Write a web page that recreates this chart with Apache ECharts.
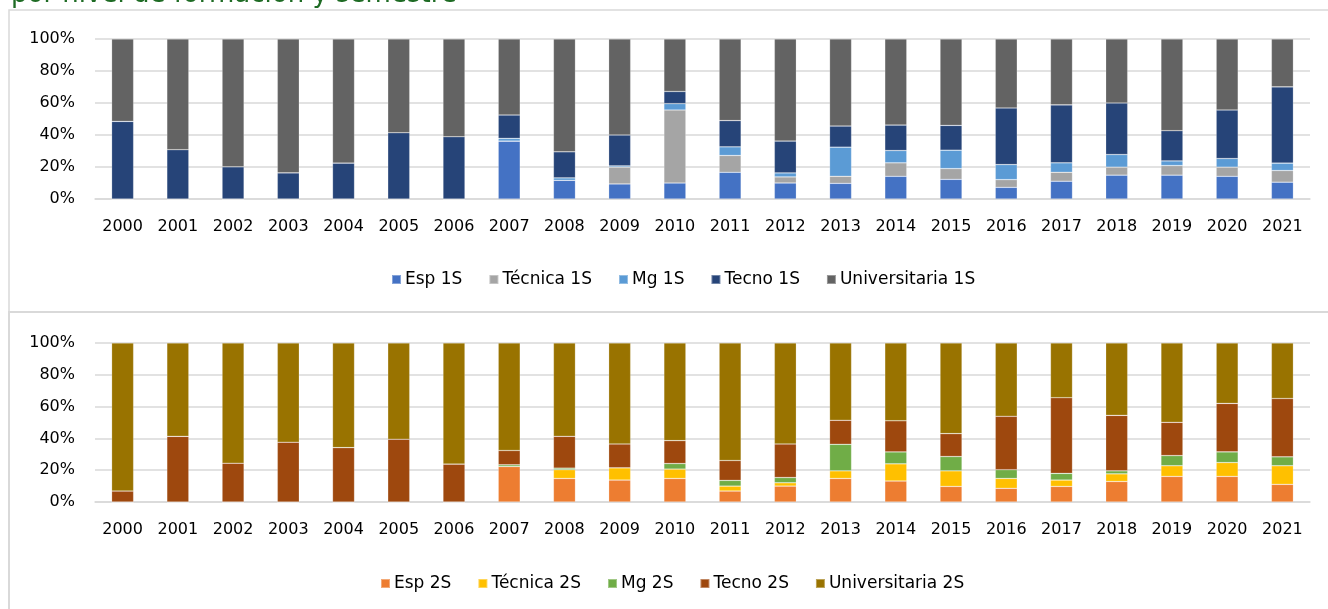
<!DOCTYPE html>
<html>
<head>
<meta charset="utf-8">
<script src="https://cdn.jsdelivr.net/npm/echarts@6/dist/echarts.min.js"></script>
<style>
html,body{margin:0;padding:0;background:#fff;}
#c{width:1328px;height:609px;}
</style>
</head>
<body>
<div id="c"></div>
<script>
const years = ['2000','2001','2002','2003','2004','2005','2006','2007','2008','2009','2010','2011','2012','2013','2014','2015','2016','2017','2018','2019','2020','2021'];
const yTicks = [0, 20, 40, 60, 80, 100];

const names1 = ['Esp 1S','Técnica 1S','Mg 1S','Tecno 1S','Universitaria 1S'];
const esp1   = [0,0,0,0,0,0,0,36.2,11.7,9.4,10.0,16.7,10.0,9.8,14.2,12.3,7.3,11.1,14.9,14.9,14.2,10.5];
const tec1   = [0,0,0,0,0,0,0,0,0,10.5,45.6,10.5,3.8,4.4,8.4,6.7,4.8,5.6,5.0,6.0,5.7,7.3];
const mg1    = [0,0,0,0,0,0,0,1.7,1.5,0.8,4.0,5.4,2.5,18.2,7.7,11.5,9.4,5.9,7.9,2.9,5.4,4.6];
const tecno1 = [48.5,30.8,20.1,16.3,22.4,41.4,38.9,14.6,16.3,19.3,7.6,16.4,19.9,13.2,15.9,15.5,35.4,36.2,32.2,18.9,30.3,47.7];
const univ1  = [51.5,69.2,79.9,83.7,77.6,58.6,61.1,47.5,70.5,60.0,32.8,51.0,63.8,54.4,53.8,54.0,43.1,41.2,40.0,57.3,44.4,29.9];

const names2 = ['Esp 2S','Técnica 2S','Mg 2S','Tecno 2S','Universitaria 2S'];
const esp2   = [0,0,0,0,0,0,0,22.3,14.8,13.8,14.8,6.9,10.0,14.8,13.2,9.8,8.6,9.8,12.9,16.1,16.1,11.1];
const tec2   = [0,0,0,0,0,0,0,0,5.5,7.7,5.9,3.1,2.1,4.8,10.8,9.8,6.2,4.0,4.8,6.7,8.7,11.7];
const mg2    = [0,0,0,0,0,0,0,1.1,1.0,0,3.5,3.6,3.3,16.7,7.5,9.0,5.5,4.2,1.9,6.4,6.7,5.6];
const tecno2 = [6.9,41.3,24.4,37.6,34.2,39.5,23.8,9.0,20.0,15.0,14.4,12.5,21.1,15.1,19.6,14.4,33.6,47.6,34.9,20.9,30.5,36.7];
const univ2  = [93.1,58.7,75.6,62.4,65.8,60.5,76.2,67.6,58.7,63.5,61.4,73.9,63.5,48.6,48.9,57.0,46.1,34.4,45.5,49.9,38.0,34.9];

const colors1 = ['#4472C4','#A5A5A5','#5B9BD5','#264478','#636363'];
const colors2 = ['#ED7D31','#FFC000','#70AD47','#9E480E','#997300'];

const FONT = 'DejaVu Sans';
const chart = echarts.init(document.getElementById('c'), null, {renderer:'canvas'});

function xAxis(gi){
  return {
    type:'category', gridIndex:gi, data:years,
    axisLine:{show:true, lineStyle:{color:'#d9d9d9', width:1.5}},
    axisTick:{show:false},
    axisLabel:{color:'#000', fontFamily:FONT, fontSize:16, margin:20, interval:0}
  };
}
function yAxis(gi){
  return {
    type:'value', gridIndex:gi, min:0, max:100, interval:20,
    axisLine:{show:false}, axisTick:{show:false},
    splitLine:{lineStyle:{color:'#d9d9d9', width:1.5}},
    axisLabel:{color:'#000', fontFamily:FONT, fontSize:16, margin:20,
      formatter: v => yTicks.includes(v) ? v + '%' : ''}
  };
}
function mk(names, arrs, colors, gi){
  return names.map((n,i)=>({
    name:n, type:'bar', stack:'s'+gi, xAxisIndex:gi, yAxisIndex:gi,
    data:arrs[i], barWidth:22,
    itemStyle:{color:colors[i], borderColor:'rgba(255,255,255,0.35)', borderWidth:0.6},
    emphasis:{disabled:true}
  }));
}

const option = {
  animation:false,
  backgroundColor:'#fff',
  graphic:[
    {type:'rect', shape:{x:9, y:10, width:1330, height:302},
     style:{fill:'none', stroke:'#d9d9d9', lineWidth:1.5}, z:-10, silent:true},
    {type:'rect', shape:{x:9, y:312, width:1330, height:310},
     style:{fill:'none', stroke:'#d9d9d9', lineWidth:2}, z:-10, silent:true},
    {type:'text', left:11, top:-18,
     style:{text:'por nivel de formación y semestre', fill:'#1e6b24',
            font:'26px "DejaVu Sans"'}, z:10, silent:true}
  ],
  grid:[
    {left:95, right:18, top:39, height:160},
    {left:95, right:18, top:343, height:159}
  ],
  legend:[
    {data:names1, left:386, top:266, itemWidth:9, itemHeight:9, itemGap:26,
     icon:'rect', textStyle:{fontFamily:FONT, fontSize:17, color:'#000', padding:[0,0,0,-1]}},
    {data:names2, left:375, top:570, itemWidth:9, itemHeight:9, itemGap:26,
     icon:'rect', textStyle:{fontFamily:FONT, fontSize:17, color:'#000', padding:[0,0,0,-1]}}
  ],
  xAxis:[xAxis(0), xAxis(1)],
  yAxis:[yAxis(0), yAxis(1)],
  series:[
    ...mk(names1,[esp1,tec1,mg1,tecno1,univ1],colors1,0),
    ...mk(names2,[esp2,tec2,mg2,tecno2,univ2],colors2,1)
  ]
};
chart.setOption(option);
</script>
</body>
</html>
